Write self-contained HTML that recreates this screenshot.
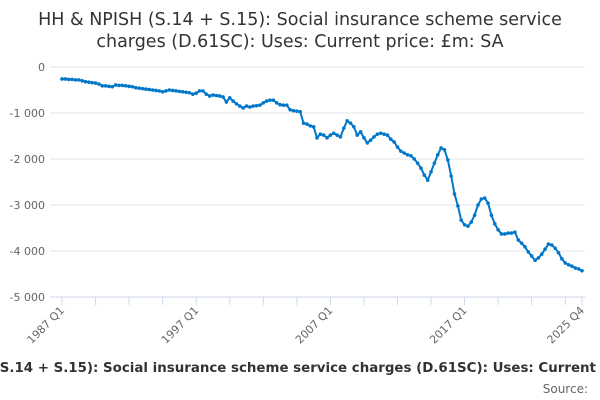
<!DOCTYPE html>
<html><head><meta charset="utf-8"><style>
body{margin:0;background:#fff;}
svg{display:block;font-family:"DejaVu Sans","Liberation Sans",sans-serif;}
</style></head><body>
<svg id="chart" width="600" height="400">
<text x="300" y="25" text-anchor="middle" font-size="17.5" fill="#333">HH &amp; NPISH (S.14 + S.15): Social insurance scheme service</text>
<text x="300" y="47" text-anchor="middle" font-size="17.5" fill="#333">charges (D.61SC): Uses: Current price: £m: SA</text>
<g id="grid"></g><g id="xaxis"></g><g id="series"></g>
<text id="cap" x="0" y="372" text-anchor="start" font-size="13.5" font-weight="bold" fill="#333">HH &amp; NPISH (S.14 + S.15): Social insurance scheme service charges (D.61SC): Uses: Current price: £m: SA</text>
<text x="588" y="393" text-anchor="end" font-size="12" fill="#666">Source:</text>
</svg>
<script>
const yTicks=[0,-1000,-2000,-3000,-4000,-5000];
const yTickLabels=["0","-1 000","-2 000","-3 000","-4 000","-5 000"];
const xTickLabels=["1987 Q1","1997 Q1","2007 Q1","2017 Q1","2025 Q4"];
const xTickIdx=[0,40,80,120,155];
const values=[-260,-260,-270,-270,-280,-280,-300,-320,-330,-340,-350,-370,
-410,-410,-420,-430,-390,-400,-400,-410,-420,-430,-450,-460,-470,-480,-490,-500,
-510,-520,-540,-520,-500,-510,-520,-530,-540,-550,-560,-590,-570,-520,-520,-590,
-630,-610,-620,-630,-650,-760,-670,-740,-800,-850,-890,-850,-870,-850,-840,-830,
-780,-740,-720,-720,-780,-820,-830,-830,-930,-950,-960,-970,-1220,-1240,-1280,-1300,
-1540,-1460,-1480,-1540,-1480,-1440,-1480,-1520,-1330,-1170,-1220,-1300,-1480,-1410,-1540,-1650,
-1590,-1520,-1460,-1440,-1460,-1480,-1570,-1630,-1740,-1830,-1870,-1910,-1930,-2000,-2090,-2200,
-2350,-2460,-2280,-2090,-1910,-1760,-1800,-2020,-2370,-2760,-3020,-3330,-3430,-3460,-3370,-3220,
-3000,-2870,-2850,-2960,-3220,-3410,-3540,-3630,-3630,-3610,-3610,-3590,-3760,-3830,-3910,-4020,
-4110,-4200,-4150,-4070,-3960,-3850,-3870,-3940,-4040,-4170,-4260,-4300,-4330,-4370,-4390,-4430];
const NS="http://www.w3.org/2000/svg";
const x0=62,x1=582,yTop=67,yBot=297;
function xs(i){return x0+(x1-x0)*i/(values.length-1);}
function ys(v){return yTop+(0-v)/5000*(yBot-yTop);}
function mk(tag,attrs,parent){const e=document.createElementNS(NS,tag);for(const k in attrs)e.setAttribute(k,attrs[k]);parent.appendChild(e);return e;}
(function(){
  const cap=document.getElementById('cap');
  const s=cap.textContent;
  const iS=s.indexOf('Social'), iC=s.indexOf('Current');
  try{
    let a=cap.getStartPositionOfChar(iS).x, b=cap.getStartPositionOfChar(iC).x;
    const fs=13.5*(539-103)/(b-a);
    cap.setAttribute('font-size',fs.toFixed(2));
    a=cap.getStartPositionOfChar(iS).x;
    cap.setAttribute('x',(103-a).toFixed(1));
  }catch(e){cap.setAttribute('x','-40');}
})();
const grid=document.getElementById('grid');
yTicks.forEach((t,k)=>{
  if(k<yTicks.length-1){const l=mk('line',{x1:50,x2:585,y1:ys(t),y2:ys(t),stroke:'#e6e6e6','stroke-width':1},grid);
  
  }
  const tx=mk('text',{x:45,y:ys(t)+4,'text-anchor':'end','font-size':11,fill:'#666'},grid);
  tx.textContent=yTickLabels[k];
  
  
});
const xa=document.getElementById('xaxis');
const ax=mk('line',{x1:50,x2:585,y1:yBot,y2:yBot,stroke:'#ccd6eb','stroke-width':1},xa);


for(let i=0;i<values.length;i+=10){
  const t=mk('line',{x1:xs(i),x2:xs(i),y1:yBot,y2:yBot+8,stroke:'#ccd6eb'},xa);
  
  
}
const te=mk('line',{x1:xs(155),x2:xs(155),y1:yBot,y2:yBot+8,stroke:'#ccd6eb'},xa);


xTickIdx.forEach((idx,k)=>{
  const x=xs(idx);
  const tx=mk('text',{x:x+3,y:yBot+14,'text-anchor':'end','font-size':11,fill:'#666',transform:`rotate(-45 ${x+3} ${yBot+14})`},xa);
  tx.textContent=xTickLabels[k];
  
  
});
const sg=document.getElementById('series');
const p=mk('path',{d:values.map((v,i)=>(i?'L':'M')+xs(i).toFixed(1)+' '+ys(v).toFixed(1)).join(''),fill:'none',stroke:'#0077c8','stroke-width':2,'stroke-linejoin':'round'},sg);


values.forEach((v,i)=>{
  const c=mk('circle',{cx:xs(i),cy:ys(v),r:1.8,fill:'#0077c8'},sg);
  
  
});
</script>
</body></html>
